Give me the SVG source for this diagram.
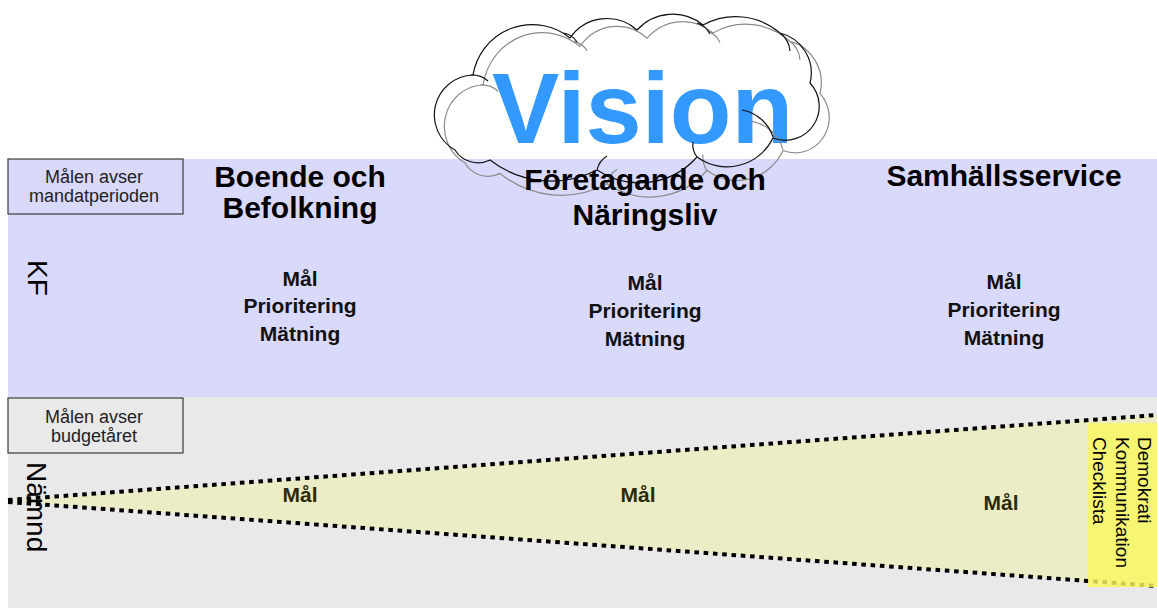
<svg xmlns="http://www.w3.org/2000/svg" width="1157" height="608" viewBox="0 0 1157 608">
<style>
text{font-family:"Liberation Sans",Arial,sans-serif;}
.head{font-size:30px;font-weight:bold;fill:#000;text-anchor:middle;}
.item{font-size:21px;font-weight:bold;fill:#111;text-anchor:middle;}
.mal{font-size:21px;font-weight:bold;fill:#2b2b0b;text-anchor:middle;}
.box{stroke:#3a3a3a;stroke-width:1.2;}
.boxt{font-size:18px;fill:#222;text-anchor:middle;}
.side{font-size:28px;fill:#000;}
.yt{font-size:19px;fill:#000;}
.dot{stroke:#000;stroke-width:4;stroke-dasharray:4.6 4.7;fill:none;}
.cl{fill:none;stroke-width:1.2;}
</style>
<defs>
<path id="cloud" d="M455,150 A40,40 0 0 1 473,75 A60,60 0 0 1 570,38 A45,45 0 0 1 637,30 A48,48 0 0 1 703,25 A68,68 0 0 1 780,33 A41,41 0 0 1 810,83 A34,34 0 0 1 773,138 A51,51 0 0 1 697,157 A77,77 0 0 1 597,170 A100,100 0 0 1 490,160 A27,27 0 0 1 455,150 Z M742,110 A40,40 0 0 1 773,137 M563,33 A20,20 0 0 1 577,42 M697,23 A22,22 0 0 1 710,34 M780,33 A25,25 0 0 1 790,51 M470,75 A25,25 0 0 1 488,81 M597,170 A22,22 0 0 1 607,156 M697,157 A20,20 0 0 1 693,142"/>
</defs>
<rect x="0" y="0" width="1157" height="608" fill="#fff"/>
<g id="band-kf">
<rect x="8" y="159" width="1149" height="238" fill="#d9d9fc"/>
</g>
<g id="band-namnd">
<rect x="8" y="397" width="1149" height="211" fill="#e9e9e9"/>
</g>
<g id="wedge">
<polygon points="8,501 1157,415 1157,586" fill="#ececc6"/>
</g>
<g id="connectors">
<line class="dot" x1="8" y1="500" x2="1157" y2="415"/>
<line class="dot" x1="8" y1="502" x2="1157" y2="586"/>
</g>
<g id="checklist">
<rect x="1088" y="423" width="69" height="164" fill="#f8f860" fill-opacity="0.82"/>
<text class="yt" transform="translate(1138,437) rotate(90)">Demokrati</text>
<text class="yt" transform="translate(1116,437) rotate(90)">Kommunikation</text>
<text class="yt" transform="translate(1093,437) rotate(90)">Checklista</text>
</g>
<g id="box-mandat">
<rect class="box" x="8" y="159" width="175" height="55" fill="#d9d9fc"/>
<text class="boxt" x="94" y="183">Målen avser</text>
<text class="boxt" x="94" y="202">mandatperioden</text>
</g>
<g id="box-budget">
<rect class="box" x="8" y="398" width="175" height="55" fill="#e9e9e9"/>
<text class="boxt" x="94" y="423">Målen avser</text>
<text class="boxt" x="94" y="442">budgetåret</text>
</g>
<g id="label-kf">
<text class="side" transform="translate(28,260) rotate(90)">KF</text>
</g>
<g id="label-namnd">
<text class="side" font-size="29" transform="translate(27,462) rotate(90)">Nämnd</text>
</g>
<g id="vision">
<text x="492" y="143" font-size="101" font-weight="bold" fill="#3399ff">Vision</text>
<use href="#cloud" class="cl" stroke="#8c8c8c" transform="translate(10,7) scale(1,1.04)"/>
<use href="#cloud" class="cl" stroke="#111"/>
</g>
<g id="col-boende">
<text class="head" x="300" y="187">Boende och</text>
<text class="head" x="300" y="218">Befolkning</text>
<text class="item" x="300" y="286">Mål</text>
<text class="item" x="300" y="313">Prioritering</text>
<text class="item" x="300" y="341">Mätning</text>
<text class="mal" x="300" y="502">Mål</text>
</g>
<g id="col-foretagande">
<text class="head" x="645" y="190">Företagande och</text>
<text class="head" x="645" y="225">Näringsliv</text>
<text class="item" x="645" y="290">Mål</text>
<text class="item" x="645" y="318">Prioritering</text>
<text class="item" x="645" y="346">Mätning</text>
<text class="mal" x="638" y="502">Mål</text>
</g>
<g id="col-samhall">
<text class="head" x="1004" y="186">Samhällsservice</text>
<text class="item" x="1004" y="289">Mål</text>
<text class="item" x="1004" y="317">Prioritering</text>
<text class="item" x="1004" y="345">Mätning</text>
<text class="mal" x="1001" y="510">Mål</text>
</g>
</svg>
